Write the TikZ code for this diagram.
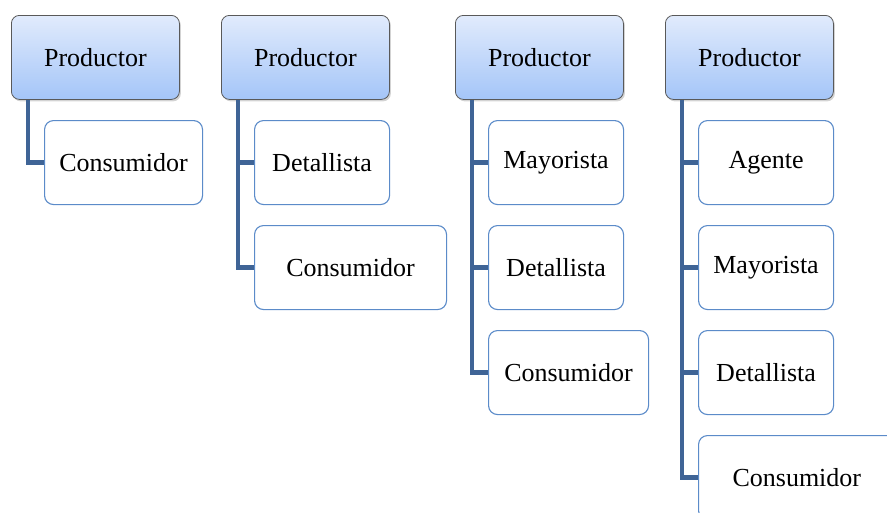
\documentclass[tikz,border=0pt]{standalone}
\usepackage{fontspec}
\setmainfont{Liberation Serif}
\usetikzlibrary{shadows}
\definecolor{linkblue}{HTML}{3F6496}
\definecolor{edgeblue}{HTML}{5B8BC9}
\definecolor{topblue}{HTML}{E1EBFC}
\definecolor{botblue}{HTML}{A4C5F8}
\tikzset{x=1pt, y=-1pt,
  every node/.style={font=\fontsize{26}{31}\selectfont, inner sep=0pt},
  head/.style={draw=black!65, line width=0.8pt, rounded corners=8pt, top color=topblue, bottom color=botblue,
    minimum width=168pt, minimum height=84pt, anchor=north west, drop shadow={opacity=0.35, shadow xshift=1.5pt, shadow yshift=-2pt}},
  item/.style={draw=edgeblue, line width=1.1pt, rounded corners=9pt, fill=white,
    minimum height=84pt, anchor=north west},
  link/.style={draw=linkblue, line width=4.5pt}}
\begin{document}
\begin{tikzpicture}
  \useasboundingbox (0,0) rectangle (887,512);
  \clip (0,0) rectangle (887,512);
  % first channel
  \node[head] (pa) at (11,15) {Productor};
  \node[item, minimum width=158pt] (a1) at (44,120) {Consumidor};
  % second channel
  \node[head] (pb) at (221,15) {Productor};
  \node[item, minimum width=135pt] (b1) at (254,120) {Detallista};
  \node[item, minimum width=192pt] (b2) at (254,225) {Consumidor};
  % third channel
  \node[head] (pc) at (455,15) {Productor};
  \node[item, minimum width=135pt] (c1) at (488,120) {Mayorista};
  \node[item, minimum width=135pt] (c2) at (488,225) {Detallista};
  \node[item, minimum width=160pt] (c3) at (488,330) {Consumidor};
  % fourth channel
  \node[head] (pd) at (665,15) {Productor};
  \node[item, minimum width=135pt] (d1) at (698,120) {Agente};
  \node[item, minimum width=135pt] (d2) at (698,225) {Mayorista};
  \node[item, minimum width=135pt] (d3) at (698,330) {Detallista};
  \node[item, minimum width=200pt, text width=200pt, align=left] (d4) at (698,435) {\hspace*{34pt}Consumidor};
  % links
  \draw[link] ([xshift=17pt]pa.south west) |- (a1.west);
  \draw[link] ([xshift=17pt]pb.south west) |- (b1.west);
  \draw[link] ([xshift=17pt]pb.south west) |- (b2.west);
  \draw[link] ([xshift=17pt]pc.south west) |- (c1.west);
  \draw[link] ([xshift=17pt]pc.south west) |- (c2.west);
  \draw[link] ([xshift=17pt]pc.south west) |- (c3.west);
  \draw[link] ([xshift=17pt]pd.south west) |- (d1.west);
  \draw[link] ([xshift=17pt]pd.south west) |- (d2.west);
  \draw[link] ([xshift=17pt]pd.south west) |- (d3.west);
  \draw[link] ([xshift=17pt]pd.south west) |- (d4.west);
\end{tikzpicture}
\end{document}
